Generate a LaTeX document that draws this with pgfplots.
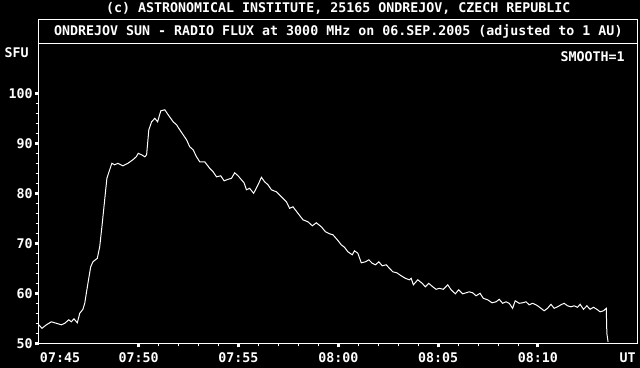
\documentclass[border=0pt]{standalone}
\usepackage{pgfplots}
\pgfplotsset{compat=1.18}
\usepackage{pgfplotstable}
\usepackage{fontspec}
\setmainfont{DejaVu Sans Mono}
\newcommand\pix{\fontsize{13.3bp}{15bp}\selectfont\bfseries}
\pgfplotstableread{
t s
0.00 53.7
0.16 53.0
0.38 53.7
0.63 54.3
0.88 54.0
1.13 53.7
1.30 54.0
1.50 54.7
1.63 54.3
1.76 54.9
1.93 54.1
2.05 56.0
2.21 56.8
2.30 58.0
2.46 62.0
2.60 65.3
2.71 66.3
2.93 67.0
3.05 69.3
3.16 73.3
3.30 78.7
3.41 83.0
3.55 84.7
3.66 86.0
3.80 85.7
3.96 86.0
4.21 85.5
4.46 86.0
4.71 86.7
4.88 87.3
4.98 88.0
5.15 87.7
5.31 87.3
5.40 87.7
5.51 92.7
5.65 94.3
5.81 95.0
5.95 94.3
6.11 96.5
6.31 96.7
6.48 95.7
6.73 94.3
6.90 93.7
7.06 92.7
7.23 91.7
7.40 90.7
7.56 89.3
7.73 88.7
7.90 87.3
8.06 86.3
8.31 86.3
8.56 85.0
8.73 84.3
8.90 83.3
9.11 83.5
9.28 82.5
9.48 82.8
9.65 83.0
9.81 84.1
9.98 83.5
10.15 82.7
10.28 82.1
10.40 80.7
10.56 81.0
10.76 80.0
10.98 81.7
11.15 83.2
11.31 82.3
11.48 81.7
11.65 80.7
11.90 80.3
12.15 79.3
12.40 78.3
12.56 77.0
12.73 77.3
12.98 76.0
13.23 74.7
13.48 74.3
13.70 73.5
13.90 74.1
14.15 73.3
14.36 72.3
14.56 71.9
14.73 71.7
14.93 70.8
15.15 69.7
15.31 69.2
15.48 68.3
15.70 67.7
15.81 68.5
15.98 68.0
16.15 66.1
16.36 66.3
16.53 66.7
16.70 66.0
16.86 65.7
17.03 66.3
17.20 65.5
17.40 65.7
17.56 65.0
17.73 64.3
17.93 64.1
18.15 63.5
18.36 63.0
18.56 62.7
18.65 63.0
18.76 61.7
18.98 62.7
19.20 62.0
19.36 61.3
19.53 62.0
19.73 61.3
19.90 60.8
20.06 61.0
20.26 60.8
20.48 61.7
20.65 60.7
20.86 59.9
21.03 60.7
21.23 59.9
21.40 60.1
21.56 60.3
21.73 60.1
21.90 59.5
22.10 60.0
22.26 59.0
22.48 58.7
22.70 58.1
22.90 58.3
23.06 58.8
23.23 58.0
23.40 58.3
23.56 58.0
23.73 57.0
23.86 58.5
24.06 58.0
24.23 58.1
24.40 58.3
24.56 57.7
24.73 58.0
24.90 57.7
24.98 57.5
25.15 57.0
25.31 56.5
25.48 57.0
25.65 57.8
25.81 57.0
25.98 57.3
26.15 57.7
26.31 58.0
26.48 57.5
26.65 57.3
26.81 57.5
26.98 57.2
27.11 57.8
27.28 56.8
27.45 57.5
27.61 56.8
27.78 57.2
27.95 56.8
28.11 56.3
28.28 56.5
28.42 57.0
28.45 52.0
28.51 50.3
}\flux
\begin{document}
\begin{tikzpicture}[font=\pix]
\fill[black,use as bounding box] (-38.8bp,-24.7bp) rectangle (601.2bp,343.3bp);
\begin{axis}[
  at={(0,0)}, anchor=south west,
  scale only axis, width=599bp, height=300bp,
  xmin=0, xmax=30, ymin=50, ymax=110,
  axis line style={white, line width=1bp},
  xtick={5,10,15,20,25},
  xticklabels={07:50,07:55,08:00,08:05,08:10},
  ytick={50,60,70,80,90,100},
  yticklabels={50,60,70,80,90,100},
  minor x tick num=4,
  minor y tick num=4,
  xtick pos=left, ytick pos=left,
  tick align=outside,
  major tick length=4bp,
  minor tick length=3bp,
  every major tick/.append style={white, line width=3bp},
  every minor tick/.append style={white, line width=1bp},
  tick label style={white, font=\pix},
  xticklabel style={yshift=-2bp},
  yticklabel style={inner sep=1bp, xshift=-1bp},
  clip=true,
]
\addplot[white, line width=1bp] table[x=t, y=s] {\flux};
\end{axis}
\begin{axis}[
  at={(0,0)}, anchor=south west,
  scale only axis, width=599bp, height=300bp,
  xmin=0, xmax=30, ymin=50, ymax=110,
  axis line style={draw=none},
  xtick=\empty, ytick=\empty,
  minor xtick={1,2,...,29},
  xtick pos=right,
  tick align=inside,
  minor tick length=3bp,
  every minor tick/.append style={white, line width=1bp},
]
\end{axis}
\draw[white, line width=1bp] (0,300bp) -- (0,323.3bp) -- (599bp,323.3bp) -- (599bp,300bp);
\node[white] at (299.5bp,311.5bp) {ONDREJOV SUN - RADIO FLUX at 3000 MHz on 06.SEP.2005 (adjusted to 1 AU)};
\node[white] at (299.5bp,335.3bp) {(c) ASTRONOMICAL INSTITUTE, 25165 ONDREJOV, CZECH REPUBLIC};
\node[white, anchor=east, inner sep=0pt] at (-10bp,290.3bp) {SFU};
\node[white, anchor=east, inner sep=0pt] at (586bp,286.3bp) {SMOOTH=1};
\node[white, anchor=west, inner sep=0pt] at (1bp,-14.7bp) {07:45};
\node[white, anchor=east, inner sep=0pt] at (597bp,-14.7bp) {UT};
\end{tikzpicture}
\end{document}
